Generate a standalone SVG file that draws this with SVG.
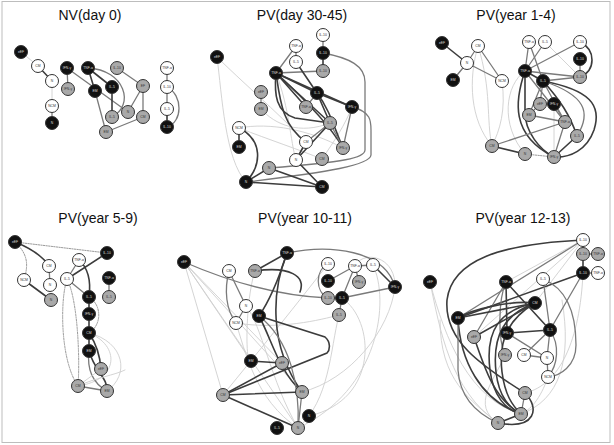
<svg xmlns="http://www.w3.org/2000/svg" width="614" height="445" viewBox="0 0 614 445">
<style>
.title{font-family:"Liberation Sans",Arial,sans-serif;font-size:14px;fill:#111;text-anchor:middle}
circle{stroke:#333;stroke-width:1}
.b{fill:#111}.g{fill:#a9a9a9}.w{fill:#fff}
text.l,text.d{font-family:"Liberation Sans",Arial,sans-serif;font-size:3.4px;text-anchor:middle}
text.l{fill:#ddd}text.d{fill:#333}
path{fill:none;stroke-linecap:round}
.e1{stroke:#3c3c3c;stroke-width:1.6}
.e2{stroke:#7a7a7a;stroke-width:1.3}
.e3{stroke:#cfcfcf;stroke-width:0.9}
.ed{stroke:#9a9a9a;stroke-width:1;stroke-dasharray:1.4 1.2}
</style>
<rect x="2" y="1.5" width="608" height="441" fill="#fff" stroke="#bdbdbd" stroke-width="1"/>
<text class="title" x="90" y="20">NV(day 0)</text>
<text class="title" x="302" y="20">PV(day 30-45)</text>
<text class="title" x="516" y="20">PV(year 1-4)</text>
<text class="title" x="98" y="223">PV(year 5-9)</text>
<text class="title" x="305" y="223">PV(year 10-11)</text>
<text class="title" x="523" y="223">PV(year 12-13)</text>

<g id="connectors">
<!-- panel 1 -->
<path class="e3" d="M21,52 L38,66"/>
<path class="e1" d="M38,66 L52,81"/>
<path class="e3" d="M52,81 L52,106"/>
<path class="e2" d="M52,106 L52,123"/>
<path class="e2" d="M67,68 L68,89"/>
<path class="e2" d="M67,68 L128,112"/>
<path class="e1" d="M88,68 L95,91"/>
<path class="e1" d="M88,68 L112,87"/>
<path class="e2" d="M88,68 C125,70 135,105 112,117"/>
<path class="e1" d="M112,87 L112,117"/>
<path class="e2" d="M117,68 L143,86"/>
<path class="e2" d="M143,86 L128,112"/>
<path class="e2" d="M143,86 L143,117"/>
<path class="e2" d="M95,91 L106,132"/>
<path class="e2" d="M106,132 L143,117"/>
<path class="e2" d="M167,68 L167,87"/>
<path class="e2" d="M167,87 L167,109"/>
<path class="e1" d="M167,109 L167,127"/>
<path class="e2" d="M167,87 C183,95 183,122 167,127"/>
<!-- panel 2 -->
<path class="e3" d="M217,57 C222,95 225,160 246,182"/>
<path class="e3" d="M217,57 C240,80 275,110 306,142"/>
<path class="e3" d="M239,128 C270,122 310,130 343,148"/>
<path class="e3" d="M239,128 C270,140 300,150 322,159"/>
<path class="e3" d="M276,73 C290,110 290,140 296,160"/>
<path class="e3" d="M261,109 C275,125 300,135 330,123"/>
<path class="e3" d="M352,107 C345,125 335,140 322,159"/>
<path class="e2" d="M323,35 L323,53"/>
<path class="e1" d="M323,53 L323,71"/>
<path class="e2" d="M296,46 L296,62"/>
<path class="e2" d="M296,46 L276,73"/>
<path class="e2" d="M276,73 L323,71"/>
<path class="e1" d="M296,62 L317,93"/>
<path class="e2" d="M323,53 C350,58 365,66 365,82 L365,150 C365,158 345,162 269,168"/>
<path class="e2" d="M352,107 C372,112 371,122 371,132 L371,155 C370,165 330,172 246,182"/>
<path class="e1" d="M276,73 L317,93"/>
<path class="e1" d="M276,73 L352,107"/>
<path class="e1" d="M276,73 L306,107"/>
<path class="e1" d="M276,73 L330,123"/>
<path class="e1" d="M276,73 C300,95 330,125 343,148"/>
<path class="e1" d="M276,73 C274,95 276,112 295,118 L330,123"/>
<path class="e1" d="M276,73 C280,100 282,125 306,142"/>
<path class="e1" d="M317,93 L352,107"/>
<path class="e1" d="M317,93 L330,123"/>
<path class="e1" d="M317,93 C330,110 335,130 343,148"/>
<path class="e2" d="M317,93 L306,107"/>
<path class="e2" d="M352,107 L343,148"/>
<path class="e2" d="M261,92 L261,109"/>
<path class="e2" d="M330,123 L306,142"/>
<path class="e2" d="M330,123 L343,148"/>
<path class="e1" d="M330,123 L296,160"/>
<path class="e1" d="M306,142 L296,160"/>
<path class="e1" d="M296,160 L322,187"/>
<path class="e1" d="M269,168 L322,187"/>
<path class="e1" d="M246,182 L269,168"/>
<path class="e1" d="M246,182 C262,165 263,140 239,128"/>
<path class="e1" d="M246,182 L322,187"/>
<path class="e1" d="M239,128 L239,147"/>
<!-- panel 3 -->
<path class="e3" d="M478,46 C468,80 470,120 492,146"/>
<path class="e3" d="M478,46 C492,90 486,120 492,146"/>
<path class="e3" d="M502,81 C506,110 500,130 492,146"/>
<path class="e3" d="M525,71 C505,85 500,125 525,154"/>
<path class="e3" d="M545,42 L580,77"/>
<path class="e3" d="M554,104 L554,157"/>
<path class="e1" d="M442,43 L467,63"/>
<path class="e2" d="M467,63 L453,80"/>
<path class="e2" d="M467,63 L478,46"/>
<path class="e2" d="M467,63 L502,81"/>
<path class="e2" d="M478,46 L502,81"/>
<path class="e2" d="M529,42 L525,71"/>
<path class="e2" d="M529,42 L543,81"/>
<path class="e2" d="M545,42 L525,71"/>
<path class="e2" d="M580,42 L525,71"/>
<path class="e2" d="M580,59 L580,77"/>
<path class="e1" d="M580,42 C596,50 596,70 580,77"/>
<path class="e1" d="M525,71 L543,81"/>
<path class="e2" d="M525,71 L580,77"/>
<path class="e2" d="M543,81 L580,77"/>
<path class="e2" d="M543,81 L565,122"/>
<path class="e1" d="M543,81 C560,100 570,115 577,136"/>
<path class="e1" d="M543,81 C590,90 602,105 594,130 C587,150 570,158 554,157"/>
<path class="e2" d="M543,81 C585,95 592,112 577,136"/>
<path class="e2" d="M543,81 L529,115"/>
<path class="e2" d="M543,81 L540,104"/>
<path class="e1" d="M525,71 L525,112 C525,132 540,150 554,157"/>
<path class="e1" d="M525,71 C515,100 510,135 554,157"/>
<path class="e2" d="M525,71 L565,122"/>
<path class="e2" d="M554,104 L565,122"/>
<path class="e2" d="M565,122 L554,157"/>
<path class="e1" d="M577,136 L554,157"/>
<path class="e2" d="M492,146 L565,122"/>
<path class="e1" d="M492,146 L525,154"/>
<path class="ed" d="M525,154 L554,157"/>
<path class="e2" d="M540,104 L529,115"/>
<path class="e2" d="M529,115 L565,122"/>
<!-- panel 4 -->
<path class="ed" d="M15,242 L107,253"/>
<path class="e1" d="M15,242 C30,248 42,255 49,266"/>
<path class="ed" d="M15,242 C29,255 28,266 24,280"/>
<path class="e2" d="M49,266 L50,285"/>
<path class="e1" d="M24,280 L51,300"/>
<path class="e2" d="M79,260 L67,279"/>
<path class="e1" d="M67,279 L107,253"/>
<path class="e1" d="M79,260 C88,268 91,282 89,297"/>
<path class="e2" d="M67,279 L89,297"/>
<path class="e2" d="M109,278 L109,297"/>
<path class="e1" d="M89,297 L89,314"/>
<path class="e1" d="M89,314 L89,333"/>
<path class="ed" d="M89,297 C102,305 102,325 89,333"/>
<path class="ed" d="M67,279 C60,300 60,360 78,386"/>
<path class="ed" d="M67,279 C78,300 80,360 78,386"/>
<path class="e1" d="M89,333 L89,351"/>
<path class="e1" d="M89,333 C97,345 100,355 101,369"/>
<path class="e3" d="M89,333 C125,342 130,375 107,391"/>
<path class="e3" d="M89,333 C120,345 120,380 78,386"/>
<path class="e2" d="M89,351 C86,376 98,386 107,391"/>
<path class="e1" d="M89,351 C95,372 108,378 107,391"/>
<path class="e3" d="M78,386 L101,369"/>
<path class="e3" d="M78,386 C95,378 115,375 125,370"/>
<path class="e2" d="M78,386 L107,391"/>
<!-- panel 5 -->
<path class="e3" d="M184,262 L223,395"/>
<path class="e3" d="M184,262 L302,392"/>
<path class="e3" d="M184,262 L298,428"/>
<path class="e3" d="M184,262 L282,363"/>
<path class="e3" d="M184,262 L251,361"/>
<path class="e3" d="M339,315 C330,350 330,400 298,428"/>
<path class="e3" d="M342,298 C375,320 380,400 309,416"/>
<path class="e3" d="M395,287 C390,330 350,380 302,392"/>
<path class="e3" d="M246,306 C262,325 270,380 298,428"/>
<path class="e3" d="M236,323 C245,350 255,400 298,428"/>
<path class="e3" d="M236,323 C280,330 320,320 339,315"/>
<path class="e3" d="M255,271 C245,300 245,370 251,361"/>
<path class="e3" d="M373,265 C390,300 380,390 298,428"/>
<path class="e3" d="M355,266 C362,250 396,255 395,287"/>
<path class="e3" d="M328,264 C300,300 260,350 223,395"/>
<path class="e2" d="M184,262 Q260,295 328,298"/>
<path class="e2" d="M229,271 L246,306"/>
<path class="e2" d="M229,271 C224,290 226,310 236,323"/>
<path class="e2" d="M246,306 L236,323"/>
<path class="e1" d="M287,253 L255,271"/>
<path class="e1" d="M287,253 C280,275 270,300 259,316"/>
<path class="e1" d="M287,253 C272,290 268,345 302,392"/>
<path class="e2" d="M287,253 C330,244 385,250 395,287"/>
<path class="e1" d="M255,271 C290,266 306,276 300,292"/>
<path class="e1" d="M259,316 C272,340 278,370 302,392"/>
<path class="e1" d="M259,316 L325,337 C331,342 330,350 327,353 L223,395"/>
<path class="e2" d="M259,316 C290,340 300,385 298,428"/>
<path class="e1" d="M251,361 L282,363"/>
<path class="e1" d="M223,395 L282,363"/>
<path class="e1" d="M223,395 L302,392"/>
<path class="e1" d="M223,395 L298,428"/>
<path class="e2" d="M302,392 L298,428"/>
<path class="e2" d="M328,264 C315,270 315,292 328,298"/>
<path class="e2" d="M328,281 L355,266"/>
<path class="e2" d="M328,298 L342,298"/>
<path class="e2" d="M342,298 L395,287"/>
<path class="e2" d="M355,266 L373,265"/>
<path class="e2" d="M355,266 L359,282"/>
<path class="e2" d="M355,266 L342,298"/>
<path class="e1" d="M373,265 L395,287"/>
<path class="e2" d="M342,298 L339,315"/>
<!-- panel 6 -->
<path class="e3" d="M430,282 C440,330 450,390 498,423"/>
<path class="e3" d="M430,282 C445,340 470,400 521,414"/>
<path class="e3" d="M498,423 C470,400 440,380 440,320"/>
<path class="e3" d="M521,414 C560,400 572,360 562,300"/>
<path class="e3" d="M525,393 C560,385 580,340 583,273"/>
<path class="e3" d="M548,377 C540,400 530,410 521,414"/>
<path class="e3" d="M505,355 C495,380 470,405 498,423"/>
<path class="e3" d="M583,240 L506,282"/>
<path class="e3" d="M583,240 L474,337"/>
<path class="e3" d="M583,240 L535,303"/>
<path class="e2" d="M583,240 L458,318"/>
<path class="e1" d="M583,240 C500,244 452,260 447,300 C444,340 480,365 525,393"/>
<path class="e2" d="M583,240 L583,254"/>
<path class="e2" d="M583,254 L598,254"/>
<path class="e1" d="M583,254 L583,273"/>
<path class="e2" d="M583,273 L598,273"/>
<path class="e1" d="M583,273 L458,318"/>
<path class="e2" d="M583,273 L550,330"/>
<path class="e1" d="M506,282 L507,333"/>
<path class="e1" d="M506,282 L550,330"/>
<path class="e2" d="M506,282 L474,337"/>
<path class="e2" d="M506,282 C498,300 498,340 505,355"/>
<path class="e1" d="M535,303 L458,318"/>
<path class="e1" d="M535,303 C510,300 470,310 458,318"/>
<path class="e1" d="M535,303 C500,310 485,330 490,370 C493,395 505,410 521,414"/>
<path class="e1" d="M535,303 C505,314 492,335 496,372 C499,398 510,408 521,414"/>
<path class="e1" d="M535,303 C510,318 498,338 502,372 C505,395 512,405 521,414"/>
<path class="e1" d="M535,303 L474,337"/>
<path class="e1" d="M458,318 C460,360 480,400 521,414"/>
<path class="e2" d="M458,318 L458,370 C460,400 480,415 498,423"/>
<path class="e1" d="M474,337 C485,370 495,400 521,414"/>
<path class="e1" d="M507,333 L550,330"/>
<path class="e2" d="M507,333 L547,358"/>
<path class="e2" d="M543,279 L550,330"/>
<path class="e2" d="M543,279 C570,290 576,320 576,345 C576,366 560,376 548,377"/>
<path class="e2" d="M550,330 L524,355"/>
<path class="e2" d="M550,330 L547,358"/>
<path class="e2" d="M550,330 C560,345 558,365 548,377"/>
<path class="e2" d="M524,355 L547,358"/>
<path class="e2" d="M547,358 L548,377"/>
<path class="e2" d="M525,393 L521,414"/>
<path class="e1" d="M521,414 L498,423"/>
<path class="e1" d="M525,393 C540,408 536,430 498,423"/>
</g>

<g id="a-eEF"><circle class="b" cx="21" cy="52" r="6.5"/><text class="l" x="21" y="53.2">eEF</text></g>
<g id="a-CM"><circle class="w" cx="38" cy="66" r="6.5"/><text class="d" x="38" y="67.2">CM</text></g>
<g id="a-N1"><circle class="w" cx="52" cy="81" r="6.5"/><text class="d" x="52" y="82.2">N</text></g>
<g id="a-NCM"><circle class="w" cx="52" cy="106" r="6.5"/><text class="d" x="52" y="107.2">NCM</text></g>
<g id="a-N2"><circle class="b" cx="52" cy="123" r="6.5"/><text class="l" x="52" y="124.2">N</text></g>
<g id="a-IFN1"><circle class="b" cx="67" cy="68" r="6.5"/><text class="l" x="67" y="69.2">IFN-γ</text></g>
<g id="a-IFN2"><circle class="g" cx="68" cy="89" r="6.5"/><text class="d" x="68" y="90.2">IFN-γ</text></g>
<g id="a-TNF1"><circle class="b" cx="88" cy="68" r="6.5"/><text class="l" x="88" y="69.2">TNF-α</text></g>
<g id="a-EM1"><circle class="b" cx="95" cy="91" r="6.5"/><text class="l" x="95" y="92.2">EM</text></g>
<g id="a-IL5a"><circle class="b" cx="112" cy="87" r="6.5"/><text class="l" x="112" y="88.2">IL-5</text></g>
<g id="a-IL10a"><circle class="g" cx="117" cy="68" r="6.5"/><text class="d" x="117" y="69.2">IL-10</text></g>
<g id="a-EF"><circle class="g" cx="143" cy="86" r="6.5"/><text class="d" x="143" y="87.2">EF</text></g>
<g id="a-IL5b"><circle class="g" cx="112" cy="117" r="6.5"/><text class="d" x="112" y="118.2">IL-5</text></g>
<g id="a-N3"><circle class="g" cx="128" cy="112" r="6.5"/><text class="d" x="128" y="113.2">N</text></g>
<g id="a-CM2"><circle class="g" cx="143" cy="117" r="6.5"/><text class="d" x="143" y="118.2">CM</text></g>
<g id="a-EM2"><circle class="g" cx="106" cy="132" r="6.5"/><text class="d" x="106" y="133.2">EM</text></g>
<g id="a-TNF2"><circle class="w" cx="167" cy="68" r="6.5"/><text class="d" x="167" y="69.2">TNF-α</text></g>
<g id="a-IL10b"><circle class="w" cx="167" cy="87" r="6.5"/><text class="d" x="167" y="88.2">IL-10</text></g>
<g id="a-IL5c"><circle class="w" cx="167" cy="109" r="6.5"/><text class="d" x="167" y="110.2">IL-5</text></g>
<g id="a-IL10c"><circle class="b" cx="167" cy="127" r="6.5"/><text class="l" x="167" y="128.2">IL-10</text></g>

<g id="b-eEF1"><circle class="b" cx="217" cy="57" r="6.5"/><text class="l" x="217" y="58.2">eEF</text></g>
<g id="b-IL10a"><circle class="w" cx="323" cy="35" r="6.5"/><text class="d" x="323" y="36.2">IL-10</text></g>
<g id="b-IL10b"><circle class="b" cx="323" cy="53" r="6.5"/><text class="l" x="323" y="54.2">IL-10</text></g>
<g id="b-IL10c"><circle class="g" cx="323" cy="71" r="6.5"/><text class="d" x="323" y="72.2">IL-10</text></g>
<g id="b-TNF1"><circle class="w" cx="296" cy="46" r="6.5"/><text class="d" x="296" y="47.2">TNF-α</text></g>
<g id="b-IL5a"><circle class="w" cx="296" cy="62" r="6.5"/><text class="d" x="296" y="63.2">IL-5</text></g>
<g id="b-TNF2"><circle class="b" cx="276" cy="73" r="6.5"/><text class="l" x="276" y="74.2">TNF-α</text></g>
<g id="b-eEF2"><circle class="g" cx="261" cy="92" r="6.5"/><text class="d" x="261" y="93.2">eEF</text></g>
<g id="b-EM1"><circle class="g" cx="261" cy="109" r="6.5"/><text class="d" x="261" y="110.2">EM</text></g>
<g id="b-IL5b"><circle class="b" cx="317" cy="93" r="6.5"/><text class="l" x="317" y="94.2">IL-5</text></g>
<g id="b-TNF3"><circle class="g" cx="306" cy="107" r="6.5"/><text class="d" x="306" y="108.2">TNF-α</text></g>
<g id="b-IFN1"><circle class="b" cx="352" cy="107" r="6.5"/><text class="l" x="352" y="108.2">IFN-γ</text></g>
<g id="b-IL5c"><circle class="g" cx="330" cy="123" r="6.5"/><text class="d" x="330" y="124.2">IL-5</text></g>
<g id="b-NCM"><circle class="w" cx="239" cy="128" r="6.5"/><text class="d" x="239" y="129.2">NCM</text></g>
<g id="b-EM2"><circle class="b" cx="239" cy="147" r="6.5"/><text class="l" x="239" y="148.2">EM</text></g>
<g id="b-CM1"><circle class="w" cx="306" cy="142" r="6.5"/><text class="d" x="306" y="143.2">CM</text></g>
<g id="b-IFN2"><circle class="g" cx="343" cy="148" r="6.5"/><text class="d" x="343" y="149.2">IFN-γ</text></g>
<g id="b-N1"><circle class="w" cx="296" cy="160" r="6.5"/><text class="d" x="296" y="161.2">N</text></g>
<g id="b-CM2"><circle class="g" cx="322" cy="159" r="6.5"/><text class="d" x="322" y="160.2">CM</text></g>
<g id="b-N2"><circle class="g" cx="269" cy="168" r="6.5"/><text class="d" x="269" y="169.2">N</text></g>
<g id="b-N3"><circle class="b" cx="246" cy="182" r="6.5"/><text class="l" x="246" y="183.2">N</text></g>
<g id="b-CM3"><circle class="b" cx="322" cy="187" r="6.5"/><text class="l" x="322" y="188.2">CM</text></g>

<g id="c-eEF1"><circle class="b" cx="442" cy="43" r="6.5"/><text class="l" x="442" y="44.2">eEF</text></g>
<g id="c-CM1"><circle class="w" cx="478" cy="46" r="6.5"/><text class="d" x="478" y="47.2">CM</text></g>
<g id="c-N1"><circle class="w" cx="467" cy="63" r="6.5"/><text class="d" x="467" y="64.2">N</text></g>
<g id="c-EM1"><circle class="b" cx="453" cy="80" r="6.5"/><text class="l" x="453" y="81.2">EM</text></g>
<g id="c-NCM"><circle class="w" cx="502" cy="81" r="6.5"/><text class="d" x="502" y="82.2">NCM</text></g>
<g id="c-TNF1"><circle class="w" cx="529" cy="42" r="6.5"/><text class="d" x="529" y="43.2">TNF-α</text></g>
<g id="c-IL5a"><circle class="w" cx="545" cy="42" r="6.5"/><text class="d" x="545" y="43.2">IL-5</text></g>
<g id="c-IL10a"><circle class="w" cx="580" cy="42" r="6.5"/><text class="d" x="580" y="43.2">IL-10</text></g>
<g id="c-IL10b"><circle class="b" cx="580" cy="59" r="6.5"/><text class="l" x="580" y="60.2">IL-10</text></g>
<g id="c-TNF2"><circle class="b" cx="525" cy="71" r="6.5"/><text class="l" x="525" y="72.2">TNF-α</text></g>
<g id="c-IL10c"><circle class="g" cx="580" cy="77" r="6.5"/><text class="d" x="580" y="78.2">IL-10</text></g>
<g id="c-IL5b"><circle class="b" cx="543" cy="81" r="6.5"/><text class="l" x="543" y="82.2">IL-5</text></g>
<g id="c-eEF2"><circle class="g" cx="540" cy="104" r="6.5"/><text class="d" x="540" y="105.2">eEF</text></g>
<g id="c-IFN1"><circle class="b" cx="554" cy="104" r="6.5"/><text class="l" x="554" y="105.2">IFN-γ</text></g>
<g id="c-EM2"><circle class="g" cx="529" cy="115" r="6.5"/><text class="d" x="529" y="116.2">EM</text></g>
<g id="c-TNF3"><circle class="g" cx="565" cy="122" r="6.5"/><text class="d" x="565" y="123.2">TNF-α</text></g>
<g id="c-IL5c"><circle class="g" cx="577" cy="136" r="6.5"/><text class="d" x="577" y="137.2">IL-5</text></g>
<g id="c-CM2"><circle class="g" cx="492" cy="146" r="6.5"/><text class="d" x="492" y="147.2">CM</text></g>
<g id="c-N2"><circle class="g" cx="525" cy="154" r="6.5"/><text class="d" x="525" y="155.2">N</text></g>
<g id="c-IFN2"><circle class="g" cx="554" cy="157" r="6.5"/><text class="d" x="554" y="158.2">IFN-γ</text></g>

<g id="d-eEF1"><circle class="b" cx="15" cy="242" r="6.5"/><text class="l" x="15" y="243.2">eEF</text></g>
<g id="d-CM1"><circle class="w" cx="49" cy="266" r="6.5"/><text class="d" x="49" y="267.2">CM</text></g>
<g id="d-N1"><circle class="w" cx="50" cy="285" r="6.5"/><text class="d" x="50" y="286.2">N</text></g>
<g id="d-NCM"><circle class="w" cx="24" cy="280" r="6.5"/><text class="d" x="24" y="281.2">NCM</text></g>
<g id="d-N2"><circle class="g" cx="51" cy="300" r="6.5"/><text class="d" x="51" y="301.2">N</text></g>
<g id="d-TNF1"><circle class="w" cx="79" cy="260" r="6.5"/><text class="d" x="79" y="261.2">TNF-α</text></g>
<g id="d-IL5a"><circle class="w" cx="67" cy="279" r="6.5"/><text class="d" x="67" y="280.2">IL-5</text></g>
<g id="d-IL10"><circle class="b" cx="107" cy="253" r="6.5"/><text class="l" x="107" y="254.2">IL-10</text></g>
<g id="d-TNF2"><circle class="b" cx="109" cy="278" r="6.5"/><text class="l" x="109" y="279.2">TNF-α</text></g>
<g id="d-IL5b"><circle class="g" cx="109" cy="297" r="6.5"/><text class="d" x="109" y="298.2">IL-5</text></g>
<g id="d-IL5c"><circle class="b" cx="89" cy="297" r="6.5"/><text class="l" x="89" y="298.2">IL-5</text></g>
<g id="d-IFN"><circle class="b" cx="89" cy="314" r="6.5"/><text class="l" x="89" y="315.2">IFN-γ</text></g>
<g id="d-CM2"><circle class="b" cx="89" cy="333" r="6.5"/><text class="l" x="89" y="334.2">CM</text></g>
<g id="d-EM1"><circle class="b" cx="89" cy="351" r="6.5"/><text class="l" x="89" y="352.2">EM</text></g>
<g id="d-eEF2"><circle class="g" cx="101" cy="369" r="6.5"/><text class="d" x="101" y="370.2">eEF</text></g>
<g id="d-CM3"><circle class="g" cx="78" cy="386" r="6.5"/><text class="d" x="78" y="387.2">CM</text></g>
<g id="d-EM2"><circle class="g" cx="107" cy="391" r="6.5"/><text class="d" x="107" y="392.2">EM</text></g>

<g id="e-eEF1"><circle class="b" cx="184" cy="262" r="6.5"/><text class="l" x="184" y="263.2">eEF</text></g>
<g id="e-CM1"><circle class="w" cx="229" cy="271" r="6.5"/><text class="d" x="229" y="272.2">CM</text></g>
<g id="e-TNF1"><circle class="g" cx="255" cy="271" r="6.5"/><text class="d" x="255" y="272.2">TNF-α</text></g>
<g id="e-TNF2"><circle class="b" cx="287" cy="253" r="6.5"/><text class="l" x="287" y="254.2">TNF-α</text></g>
<g id="e-N1"><circle class="w" cx="246" cy="306" r="6.5"/><text class="d" x="246" y="307.2">N</text></g>
<g id="e-NCM"><circle class="w" cx="236" cy="323" r="6.5"/><text class="d" x="236" y="324.2">NCM</text></g>
<g id="e-EM1"><circle class="b" cx="259" cy="316" r="6.5"/><text class="l" x="259" y="317.2">EM</text></g>
<g id="e-IL10a"><circle class="w" cx="328" cy="264" r="6.5"/><text class="d" x="328" y="265.2">IL-10</text></g>
<g id="e-IL10b"><circle class="b" cx="328" cy="281" r="6.5"/><text class="l" x="328" y="282.2">IL-10</text></g>
<g id="e-IL10c"><circle class="g" cx="328" cy="298" r="6.5"/><text class="d" x="328" y="299.2">IL-10</text></g>
<g id="e-IL5a"><circle class="b" cx="342" cy="298" r="6.5"/><text class="l" x="342" y="299.2">IL-5</text></g>
<g id="e-TNF3"><circle class="w" cx="355" cy="266" r="6.5"/><text class="d" x="355" y="267.2">TNF-α</text></g>
<g id="e-IL5b"><circle class="w" cx="373" cy="265" r="6.5"/><text class="d" x="373" y="266.2">IL-5</text></g>
<g id="e-IFN1"><circle class="g" cx="359" cy="282" r="6.5"/><text class="d" x="359" y="283.2">IFN-γ</text></g>
<g id="e-IFN2"><circle class="b" cx="395" cy="287" r="6.5"/><text class="l" x="395" y="288.2">IFN-γ</text></g>
<g id="e-IL5c"><circle class="g" cx="339" cy="315" r="6.5"/><text class="d" x="339" y="316.2">IL-5</text></g>
<g id="e-EM2"><circle class="b" cx="251" cy="361" r="6.5"/><text class="l" x="251" y="362.2">EM</text></g>
<g id="e-eEF2"><circle class="g" cx="282" cy="363" r="6.5"/><text class="d" x="282" y="364.2">eEF</text></g>
<g id="e-CM2"><circle class="g" cx="223" cy="395" r="6.5"/><text class="d" x="223" y="396.2">CM</text></g>
<g id="e-EM3"><circle class="g" cx="302" cy="392" r="6.5"/><text class="d" x="302" y="393.2">EM</text></g>
<g id="e-N2"><circle class="b" cx="309" cy="416" r="6.5"/><text class="l" x="309" y="417.2">N</text></g>
<g id="e-IL5d"><circle class="b" cx="277" cy="428" r="6.5"/><text class="l" x="277" y="429.2">IL-5</text></g>
<g id="e-N3"><circle class="g" cx="298" cy="428" r="6.5"/><text class="d" x="298" y="429.2">N</text></g>

<g id="f-IL10a"><circle class="w" cx="583" cy="240" r="6.5"/><text class="d" x="583" y="241.2">IL-10</text></g>
<g id="f-IL10b"><circle class="g" cx="583" cy="254" r="6.5"/><text class="d" x="583" y="255.2">IL-10</text></g>
<g id="f-TNF1"><circle class="g" cx="598" cy="254" r="6.5"/><text class="d" x="598" y="255.2">TNF-α</text></g>
<g id="f-IL10c"><circle class="b" cx="583" cy="273" r="6.5"/><text class="l" x="583" y="274.2">IL-10</text></g>
<g id="f-TNF2"><circle class="w" cx="598" cy="273" r="6.5"/><text class="d" x="598" y="274.2">TNF-α</text></g>
<g id="f-eEF1"><circle class="b" cx="430" cy="282" r="6.5"/><text class="l" x="430" y="283.2">eEF</text></g>
<g id="f-TNF3"><circle class="b" cx="506" cy="282" r="6.5"/><text class="l" x="506" y="283.2">TNF-α</text></g>
<g id="f-IL5a"><circle class="w" cx="543" cy="279" r="6.5"/><text class="d" x="543" y="280.2">IL-5</text></g>
<g id="f-CM1"><circle class="b" cx="535" cy="303" r="6.5"/><text class="l" x="535" y="304.2">CM</text></g>
<g id="f-EM1"><circle class="b" cx="458" cy="318" r="6.5"/><text class="l" x="458" y="319.2">EM</text></g>
<g id="f-eEF2"><circle class="g" cx="474" cy="337" r="6.5"/><text class="d" x="474" y="338.2">eEF</text></g>
<g id="f-IFN1"><circle class="b" cx="507" cy="333" r="6.5"/><text class="l" x="507" y="334.2">IFN-γ</text></g>
<g id="f-IL5b"><circle class="b" cx="550" cy="330" r="6.5"/><text class="l" x="550" y="331.2">IL-5</text></g>
<g id="f-IFN2"><circle class="g" cx="505" cy="355" r="6.5"/><text class="d" x="505" y="356.2">IFN-γ</text></g>
<g id="f-CM2"><circle class="w" cx="524" cy="355" r="6.5"/><text class="d" x="524" y="356.2">CM</text></g>
<g id="f-N1"><circle class="w" cx="547" cy="358" r="6.5"/><text class="d" x="547" y="359.2">N</text></g>
<g id="f-NCM"><circle class="w" cx="548" cy="377" r="6.5"/><text class="d" x="548" y="378.2">NCM</text></g>
<g id="f-CM3"><circle class="g" cx="525" cy="393" r="6.5"/><text class="d" x="525" y="394.2">CM</text></g>
<g id="f-EM2"><circle class="g" cx="521" cy="414" r="6.5"/><text class="d" x="521" y="415.2">EM</text></g>
<g id="f-N2"><circle class="g" cx="498" cy="423" r="6.5"/><text class="d" x="498" y="424.2">N</text></g>
</svg>
